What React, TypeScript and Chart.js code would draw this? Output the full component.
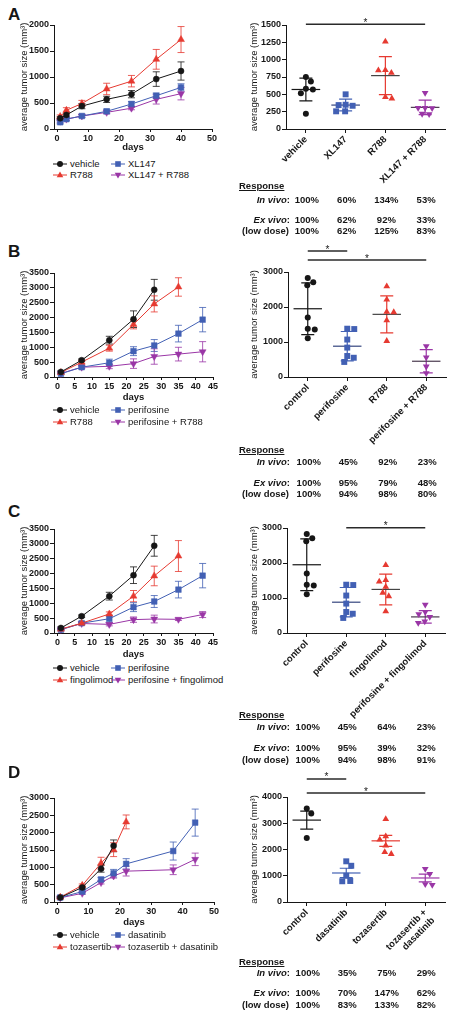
import React, { useEffect, useRef } from "react";
import { Chart, registerables } from "chart.js";

Chart.register(...registerables);

const FONT = "'Liberation Sans', Arial, Helvetica, sans-serif";
const INK = "#161616";
const RED = "#e63a31";
const BLUE = "#4260b4";
const PURPLE = "#9a36a6";

// ---------------- Panel A ----------------
const aDays = [1, 3, 8, 16, 24, 32, 40];
const aVehicle = [205, 270, 440, 570, 670, 960, 1115];
const aVehicleErr = [30, 40, 50, 60, 70, 140, 175];
const aR788 = [240, 360, 490, 770, 920, 1340, 1720];
const aR788Err = [30, 50, 60, 110, 110, 190, 250];
const aXL147 = [130, 190, 250, 340, 480, 640, 800];
const aXL147Err = [30, 30, 30, 40, 50, 50, 70];
const aCombo = [150, 190, 250, 320, 400, 570, 680];
const aComboErr = [20, 20, 20, 30, 30, 90, 120];
const aXTicks = [0, 10, 20, 30, 40, 50];
const aYTicks = [0, 250, 500, 750, 1000, 1250, 1500, 1750, 2000];

const aGroups = ["vehicle", "XL147", "R788", "XL147 + R788"];
const aVehiclePts = [750, 685, 580, 570, 515, 220];
const aXL147Pts = [500, 350, 345, 335, 255, 255];
const aR788Pts = [1260, 850, 845, 810, 460, 440];
const aComboPts = [520, 305, 305, 300, 220, 215];
const aMeans = [570, 345, 770, 312];
const aSDs = [165, 85, 275, 105];
const aScatterTicks = [0, 250, 500, 750, 1000, 1250, 1500];
const aSig = [[0, 3, 1510]];
const aInVivo = [100, 60, 134, 53];
const aExVivo = [100, 62, 92, 33];
const aLowDose = [100, 62, 125, 83];

// ---------------- Panel B ----------------
const bVehicleDays = [1, 7, 15, 22, 28];
const bVehicle = [170, 565, 1240, 1945, 2935];
const bVehicleErr = [40, 40, 130, 280, 350];
const bR788Days = [1, 7, 15, 22, 28, 35];
const bR788 = [150, 500, 970, 1770, 2460, 3030];
const bR788Err = [30, 60, 100, 150, 270, 310];
const bPeriDays = [1, 7, 15, 22, 28, 35, 42];
const bPeri = [110, 330, 480, 870, 1060, 1460, 1930];
const bPeriErr = [20, 40, 120, 150, 200, 280, 410];
const bCombo = [120, 330, 360, 450, 690, 770, 850];
const bComboErr = [20, 50, 80, 160, 260, 230, 340];
const bXTicks = [0, 5, 10, 15, 20, 25, 30, 35, 40, 45];
const bYTicks = [0, 500, 1000, 1500, 2000, 2500, 3000, 3500];

const bGroups = ["control", "perifosine", "R788", "perifosine + R788"];
const bControlPts = [2830, 2710, 2620, 1700, 1380, 1360, 1110];
const bPeriPts = [1380, 1370, 1070, 840, 600, 550, 430];
const bR788Pts = [2590, 2210, 1860, 1850, 1620, 1030];
const bComboPts = [880, 560, 300, 110];
const bMeans = [1950, 880, 1790, 450];
const bSDs = [740, 420, 530, 330];
const bScatterTicks = [0, 1000, 2000, 3000];
const bSig = [[0, 1, 3600], [0, 3, 3340]];
const bInVivo = [100, 45, 92, 23];
const bExVivo = [100, 95, 79, 48];
const bLowDose = [100, 94, 98, 80];

// ---------------- Panel C ----------------
const cFingoDays = [1, 7, 15, 22, 28, 35];
const cFingo = [130, 330, 640, 1240, 1920, 2590];
const cFingoErr = [20, 40, 70, 190, 330, 520];
const cCombo = [120, 320, 290, 450, 470, 460, 620];
const cComboErr = [20, 30, 50, 90, 130, 40, 100];

const cGroups = ["control", "perifosine", "fingolimod", "perifosine + fingolimod"];
const cFingoPts = [1940, 1510, 1470, 1320, 1150, 1050, 620];
const cComboPts = [810, 600, 540, 460, 330, 290];
const cMeans = [1950, 880, 1245, 460];
const cSDs = [740, 420, 440, 180];
const cSig = [[1, 3, 3010]];
const cInVivo = [100, 45, 64, 23];
const cExVivo = [100, 95, 39, 32];
const cLowDose = [100, 94, 98, 91];

// ---------------- Panel D ----------------
const dVehicleDays = [1, 8, 14, 18];
const dVehicle = [130, 420, 960, 1620];
const dVehicleErr = [20, 40, 100, 170];
const dTozaDays = [1, 8, 14, 18, 22];
const dToza = [140, 480, 1120, 1510, 2310];
const dTozaErr = [20, 40, 170, 200, 200];
const dDasaDays = [1, 8, 14, 18, 22, 37, 44];
const dDasa = [130, 300, 650, 830, 1100, 1470, 2290];
const dDasaErr = [20, 40, 60, 110, 150, 260, 390];
const dCombo = [120, 250, 560, 750, 890, 930, 1230];
const dComboErr = [20, 30, 40, 60, 140, 140, 180];
const dXTicks = [0, 10, 20, 30, 40, 50];
const dYTicks = [0, 500, 1000, 1500, 2000, 2500, 3000];

const dGroups: (string | string[])[] = ["control", "dasatinib", "tozasertib", ["tozasertib +", "dasatinib"]];
const dControlPts = [3560, 3370, 2440];
const dDasaPts = [1550, 1380, 1000, 800, 790];
const dTozaPts = [3160, 2500, 2380, 2150, 1900, 1830];
const dComboPts = [1260, 1070, 680, 650];
const dMeans = [3120, 1105, 2330, 915];
const dSDs = [340, 180, 210, 150];
const dScatterTicks = [0, 1000, 2000, 3000, 4000];
const dSig = [[0, 1, 4690], [0, 3, 4150]];
const dInVivo = [100, 35, 75, 29];
const dExVivo = [100, 70, 147, 62];
const dLowDose = [100, 83, 133, 82];

const Y_TITLE = "average tumor size (mm³)";

// ---------------- helpers ----------------
type Marker = "circle" | "square" | "tri" | "itri";
const MARK: Record<string, { style: string; rot: number; r: number; rs: number }> = {
  circle: { style: "circle", rot: 0, r: 3, rs: 3 },
  square: { style: "rect", rot: 0, r: 4, rs: 4.2 },
  tri: { style: "triangle", rot: 0, r: 4, rs: 3.9 },
  itri: { style: "triangle", rot: 180, r: 4, rs: 3.9 },
};

interface Geom {
  left: number; top: number; width: number; height: number;
  aLeft: number; aRight: number; aTop: number; aBottom: number;
}
interface LineSeries {
  label: string; color: string; marker: Marker;
  days: number[]; values: number[]; errors: number[];
}

const tickFont = { family: FONT, size: 9, weight: "bold" as const };
const titleFont = { family: FONT, size: 9.5 };

const errorBarPlugin = {
  id: "errbars",
  beforeDatasetsDraw(chart: any) {
    const ctx = chart.ctx;
    const ys = chart.scales.y;
    chart.data.datasets.forEach((ds: any, i: number) => {
      if (!ds.errors) return;
      const meta = chart.getDatasetMeta(i);
      ctx.save();
      ctx.strokeStyle = ds.borderColor;
      ctx.globalAlpha = 0.8;
      ctx.lineWidth = 1;
      meta.data.forEach((el: any, j: number) => {
        const v = ds.data[j].y;
        const e = ds.errors[j];
        if (!e) return;
        const x = el.x;
        const y1 = ys.getPixelForValue(v + e);
        const y2 = ys.getPixelForValue(v - e);
        ctx.beginPath();
        ctx.moveTo(x, y1); ctx.lineTo(x, y2);
        ctx.moveTo(x - 3.5, y1); ctx.lineTo(x + 3.5, y1);
        ctx.moveTo(x - 3.5, y2); ctx.lineTo(x + 3.5, y2);
        ctx.stroke();
      });
      ctx.restore();
    });
  },
};

function yAxis(g: Geom, ticks: number[], titlePad: number) {
  return {
    type: "linear",
    min: 0,
    max: ticks[ticks.length - 1],
    afterBuildTicks: (ax: any) => { ax.ticks = ticks.map((v) => ({ value: v })); },
    afterFit: (ax: any) => { ax.width = g.aLeft - g.left; },
    ticks: { font: tickFont, color: INK, padding: 1, callback: (v: any) => String(v) },
    grid: { display: true, drawOnChartArea: false, drawTicks: true, tickLength: 4, color: INK },
    border: { display: true, color: INK, width: 1 },
    title: { display: true, text: Y_TITLE, font: titleFont, color: INK, padding: { top: titlePad, bottom: 0 } },
  };
}

function lineConfig(series: LineSeries[], g: Geom, xTicks: number[], yTicks: number[]) {
  const xH = g.top + g.height - g.aBottom;
  return {
    type: "line",
    data: {
      datasets: series.map((s) => ({
        label: s.label,
        data: s.days.map((d, i) => ({ x: d, y: s.values[i] })),
        errors: s.errors,
        borderColor: s.color,
        backgroundColor: s.color,
        borderWidth: 1,
        pointStyle: MARK[s.marker].style,
        pointRotation: MARK[s.marker].rot,
        pointRadius: MARK[s.marker].r,
        pointBorderWidth: 0.5,
        pointBackgroundColor: s.color,
        pointBorderColor: s.color,
        tension: 0,
        clip: false,
      })),
    },
    options: {
      animation: false,
      responsive: false,
      devicePixelRatio: 1,
      layout: { padding: { left: 0, right: g.left + g.width - g.aRight, top: g.aTop - g.top, bottom: 0 } },
      plugins: { legend: { display: false }, tooltip: { enabled: false } },
      scales: {
        x: {
          type: "linear",
          min: -1,
          max: xTicks[xTicks.length - 1],
          afterBuildTicks: (ax: any) => { ax.ticks = xTicks.map((v) => ({ value: v })); },
          afterFit: (ax: any) => { ax.height = xH; },
          ticks: { font: tickFont, color: INK, padding: 1, maxRotation: 0, autoSkip: false, callback: (v: any) => String(v) },
          grid: { display: true, drawOnChartArea: false, drawTicks: true, tickLength: 3, color: INK },
          border: { display: true, color: INK, width: 1 },
          title: { display: true, text: "days", font: { family: FONT, size: 9.5, weight: "bold" }, color: INK, padding: { top: 0, bottom: 2 } },
        },
        y: yAxis(g, yTicks, 18.3),
      },
    },
    plugins: [errorBarPlugin],
  };
}

function swarm(values: number[], pxPerUnit: number, diam: number): number[] {
  const order = values.map((_, i) => i).sort((a, b) => values[b] - values[a]);
  const placed: { x: number; y: number }[] = [];
  const out = new Array(values.length).fill(0);
  order.forEach((i, n) => {
    const y = values[i] * pxPerUnit;
    let chosen = 0;
    outer: for (let s = 0; s < 40; s += 0.5) {
      const cands = s === 0 ? [0] : n % 2 ? [s, -s] : [-s, s];
      for (const c of cands) {
        if (placed.every((p) => Math.hypot(p.x - c, p.y - y) >= diam)) {
          chosen = c;
          break outer;
        }
      }
    }
    placed.push({ x: chosen, y });
    out[i] = chosen;
  });
  return out;
}

interface ScatterGroup { color: string; marker: Marker; values: number[] }

function summaryPlugin(means: number[], sds: number[], sig: number[][], barColors: string[], meanColors: string[]) {
  return {
    id: "summary",
    beforeDatasetsDraw(chart: any) {
      const ctx = chart.ctx;
      const xs = chart.scales.x;
      const ys = chart.scales.y;
      const half = (xs.getPixelForValue(1) - xs.getPixelForValue(0)) * 0.36;
      means.forEach((m, i) => {
        const cx = xs.getPixelForValue(i);
        const ym = ys.getPixelForValue(m);
        const yt = ys.getPixelForValue(m + sds[i]);
        const yb = ys.getPixelForValue(Math.max(0, m - sds[i]));
        ctx.save();
        ctx.lineWidth = 1.2;
        ctx.strokeStyle = barColors[i];
        ctx.beginPath();
        ctx.moveTo(cx, yt); ctx.lineTo(cx, yb);
        ctx.moveTo(cx - 6.5, yt); ctx.lineTo(cx + 6.5, yt);
        ctx.moveTo(cx - 6.5, yb); ctx.lineTo(cx + 6.5, yb);
        ctx.stroke();
        ctx.strokeStyle = meanColors[i];
        ctx.beginPath();
        ctx.moveTo(cx - half, ym); ctx.lineTo(cx + half, ym);
        ctx.stroke();
        ctx.restore();
      });
    },
    afterDraw(chart: any) {
      const ctx = chart.ctx;
      const xs = chart.scales.x;
      const ys = chart.scales.y;
      sig.forEach(([a, b, level]) => {
        const x1 = xs.getPixelForValue(a);
        const x2 = xs.getPixelForValue(b);
        const y = ys.getPixelForValue(level);
        ctx.save();
        ctx.strokeStyle = "#2a2a2a";
        ctx.lineWidth = 1.5;
        ctx.beginPath();
        ctx.moveTo(x1, y); ctx.lineTo(x2, y);
        ctx.stroke();
        ctx.fillStyle = INK;
        ctx.font = `10px ${FONT}`;
        ctx.textAlign = "center";
        ctx.textBaseline = "alphabetic";
        ctx.fillText("*", (x1 + x2) / 2, y + 1.5);
        ctx.restore();
      });
    },
  };
}

function scatterConfig(
  labels: (string | string[])[], groups: ScatterGroup[], means: number[], sds: number[],
  sig: number[][], g: Geom, yTicks: number[], meanColors: string[],
) {
  const yMax = yTicks[yTicks.length - 1];
  const pxPerUnit = (g.aBottom - g.aTop) / yMax;
  const catPx = (g.aRight - g.aLeft) / labels.length;
  const xH = g.top + g.height - g.aBottom;
  return {
    type: "scatter",
    data: {
      datasets: groups.map((gr, i) => {
        const offs = swarm(gr.values, pxPerUnit, 6.6);
        return {
          data: gr.values.map((v, k) => ({ x: i + offs[k] / catPx, y: v })),
          pointStyle: MARK[gr.marker].style,
          pointRotation: MARK[gr.marker].rot,
          pointRadius: MARK[gr.marker].rs,
          pointHoverRadius: MARK[gr.marker].rs,
          pointBackgroundColor: gr.color,
          pointBorderColor: gr.color,
          pointBorderWidth: 0,
          clip: false,
        };
      }),
    },
    options: {
      animation: false,
      responsive: false,
      devicePixelRatio: 1,
      layout: { padding: { left: 0, right: g.left + g.width - g.aRight, top: g.aTop - g.top, bottom: 0 } },
      plugins: { legend: { display: false }, tooltip: { enabled: false } },
      scales: {
        x: {
          type: "linear",
          min: -0.5,
          max: labels.length - 0.5,
          afterBuildTicks: (ax: any) => { ax.ticks = labels.map((_, i) => ({ value: i })); },
          afterFit: (ax: any) => { ax.height = xH; },
          ticks: {
            font: { family: FONT, size: 9.5, weight: "bold" }, color: INK, padding: 1,
            minRotation: 45, maxRotation: 45, autoSkip: false,
            callback: (v: any) => labels[Math.round(v)],
          },
          grid: { display: true, drawOnChartArea: false, drawTicks: true, tickLength: 4, color: INK },
          border: { display: true, color: INK, width: 1 },
        },
        y: yAxis(g, yTicks, 23.3),
      },
    },
    plugins: [summaryPlugin(means, sds, sig, groups.map((gr) => gr.color), meanColors)],
  };
}

function ChartBox({ geom, build }: { geom: Geom; build: () => any }) {
  const ref = useRef<HTMLCanvasElement>(null);
  useEffect(() => {
    const chart = new Chart(ref.current as HTMLCanvasElement, build());
    return () => chart.destroy();
  }, []);
  return (
    <canvas
      ref={ref}
      width={geom.width}
      height={geom.height}
      style={{ position: "absolute", left: geom.left, top: geom.top, width: geom.width, height: geom.height }}
    />
  );
}

function T({ x, y, size = 9.5, bold = false, italic = false, align = "left", underline = false, children }: any) {
  const w = 200;
  const left = align === "left" ? x : align === "right" ? x - w : x - w / 2;
  return (
    <div
      style={{
        position: "absolute", left, top: y - size * 0.59, width: w, fontSize: size, lineHeight: `${size * 1.2}px`,
        fontWeight: bold ? "bold" : "normal", fontStyle: italic ? "italic" : "normal", textAlign: align,
        textDecoration: underline ? "underline" : "none", whiteSpace: "nowrap", color: INK, fontFamily: FONT,
      }}
    >
      {children}
    </div>
  );
}

function MarkerIcon({ marker, color }: { marker: Marker; color: string }) {
  if (marker === "circle") return <circle cx={7} cy={5} r={3} fill={color} />;
  if (marker === "square") return <rect x={4.2} y={2.2} width={5.6} height={5.6} fill={color} />;
  if (marker === "tri") return <polygon points="7,1.5 10.3,7.2 3.7,7.2" fill={color} />;
  return <polygon points="7,8.5 10.3,2.8 3.7,2.8" fill={color} />;
}

function LegendItem({ x, y, s }: { x: number; y: number; s: LineSeries }) {
  return (
    <>
      <svg style={{ position: "absolute", left: x - 7, top: y - 5 }} width={14} height={10}>
        <line x1={0} y1={5} x2={14} y2={5} stroke={s.color} strokeWidth={1} />
        <MarkerIcon marker={s.marker} color={s.color} />
      </svg>
      <T x={x + 10} y={y}>{s.label}</T>
    </>
  );
}

function Legend({ series, y1, y2 }: { series: LineSeries[]; y1: number; y2: number }) {
  return (
    <>
      <LegendItem x={60} y={y1} s={series[0]} />
      <LegendItem x={118} y={y1} s={series[2]} />
      <LegendItem x={60} y={y2} s={series[1]} />
      <LegendItem x={118} y={y2} s={series[3]} />
    </>
  );
}

function ResponseTable({ g, rows, inVivo, exVivo, lowDose }: { g: Geom; rows: number[]; inVivo: number[]; exVivo: number[]; lowDose: number[] }) {
  const cat = (g.aRight - g.aLeft) / 4;
  const centers = [0, 1, 2, 3].map((i) => g.aLeft + cat * (i + 0.5) + 1);
  const vals = [inVivo, exVivo, lowDose];
  return (
    <>
      <T x={239} y={rows[0]} bold underline>Response</T>
      <T x={290} y={rows[1]} bold align="right"><i>In vivo</i>:</T>
      <T x={290} y={rows[2]} bold align="right"><i>Ex vivo</i>:</T>
      <T x={289} y={rows[3]} bold align="right">(low dose)</T>
      {vals.map((arr, r) =>
        arr.map((v, i) => (
          <T key={`${r}-${i}`} x={centers[i]} y={rows[r + 1]} bold align="center">{`${v}%`}</T>
        )),
      )}
    </>
  );
}

// ---------------- geometry ----------------
const aLineG: Geom = { left: 0, top: 0, width: 225, height: 155, aLeft: 54, aRight: 212, aTop: 25, aBottom: 129 };
const bLineG: Geom = { left: 0, top: 240, width: 225, height: 165, aLeft: 54, aRight: 213, aTop: 273, aBottom: 377 };
const cLineG: Geom = { left: 0, top: 500, width: 225, height: 162, aLeft: 54, aRight: 213, aTop: 529, aBottom: 633 };
const dLineG: Geom = { left: 0, top: 770, width: 225, height: 160, aLeft: 54, aRight: 214, aTop: 798, aBottom: 902 };

const aScatG: Geom = { left: 225, top: 0, width: 230, height: 190, aLeft: 286, aRight: 445, aTop: 25, aBottom: 129 };
const bScatG: Geom = { left: 225, top: 240, width: 230, height: 207, aLeft: 288, aRight: 446, aTop: 272, aBottom: 377 };
const cScatG: Geom = { left: 225, top: 505, width: 230, height: 222, aLeft: 287, aRight: 445, aTop: 528, aBottom: 633 };
const dScatG: Geom = { left: 225, top: 765, width: 230, height: 195, aLeft: 287, aRight: 445, aTop: 797, aBottom: 902 };

// ---------------- series ----------------
const aSeries: LineSeries[] = [
  { label: "vehicle", color: INK, marker: "circle", days: aDays, values: aVehicle, errors: aVehicleErr },
  { label: "R788", color: RED, marker: "tri", days: aDays, values: aR788, errors: aR788Err },
  { label: "XL147", color: BLUE, marker: "square", days: aDays, values: aXL147, errors: aXL147Err },
  { label: "XL147 + R788", color: PURPLE, marker: "itri", days: aDays, values: aCombo, errors: aComboErr },
];
const bSeries: LineSeries[] = [
  { label: "vehicle", color: INK, marker: "circle", days: bVehicleDays, values: bVehicle, errors: bVehicleErr },
  { label: "R788", color: RED, marker: "tri", days: bR788Days, values: bR788, errors: bR788Err },
  { label: "perifosine", color: BLUE, marker: "square", days: bPeriDays, values: bPeri, errors: bPeriErr },
  { label: "perifosine + R788", color: PURPLE, marker: "itri", days: bPeriDays, values: bCombo, errors: bComboErr },
];
const cSeries: LineSeries[] = [
  { label: "vehicle", color: INK, marker: "circle", days: bVehicleDays, values: bVehicle, errors: bVehicleErr },
  { label: "fingolimod", color: RED, marker: "tri", days: cFingoDays, values: cFingo, errors: cFingoErr },
  { label: "perifosine", color: BLUE, marker: "square", days: bPeriDays, values: bPeri, errors: bPeriErr },
  { label: "perifosine + fingolimod", color: PURPLE, marker: "itri", days: bPeriDays, values: cCombo, errors: cComboErr },
];
const dSeries: LineSeries[] = [
  { label: "vehicle", color: INK, marker: "circle", days: dVehicleDays, values: dVehicle, errors: dVehicleErr },
  { label: "tozasertib", color: RED, marker: "tri", days: dTozaDays, values: dToza, errors: dTozaErr },
  { label: "dasatinib", color: BLUE, marker: "square", days: dDasaDays, values: dDasa, errors: dDasaErr },
  { label: "tozasertib + dasatinib", color: PURPLE, marker: "itri", days: dDasaDays, values: dCombo, errors: dComboErr },
];

const grpStyle = (pts: number[][]): ScatterGroup[] => [
  { color: INK, marker: "circle", values: pts[0] },
  { color: BLUE, marker: "square", values: pts[1] },
  { color: RED, marker: "tri", values: pts[2] },
  { color: PURPLE, marker: "itri", values: pts[3] },
];
const darkMeans = [INK, "#34457e", "#444444", "#4a3a4e"];
const colorMeans = [INK, BLUE, RED, PURPLE];

function Letter({ y, children }: any) {
  return <T x={8} y={y} size={17} bold>{children}</T>;
}

export default function App() {
  return (
    <div style={{ position: "absolute", left: 0, top: 0, width: 455, height: 1020, background: "#fff", overflow: "hidden", fontFamily: FONT }}>
      <Letter y={15.5}>A</Letter>
      <ChartBox geom={aLineG} build={() => lineConfig(aSeries, aLineG, aXTicks, aYTicks)} />
      <Legend series={aSeries} y1={164} y2={175} />
      <ChartBox geom={aScatG} build={() => scatterConfig(aGroups, grpStyle([aVehiclePts, aXL147Pts, aR788Pts, aComboPts]), aMeans, aSDs, aSig, aScatG, aScatterTicks, darkMeans)} />
      <ResponseTable g={aScatG} rows={[186, 200, 220, 231]} inVivo={aInVivo} exVivo={aExVivo} lowDose={aLowDose} />

      <Letter y={252}>B</Letter>
      <ChartBox geom={bLineG} build={() => lineConfig(bSeries, bLineG, bXTicks, bYTicks)} />
      <Legend series={bSeries} y1={410} y2={422} />
      <ChartBox geom={bScatG} build={() => scatterConfig(bGroups, grpStyle([bControlPts, bPeriPts, bR788Pts, bComboPts]), bMeans, bSDs, bSig, bScatG, bScatterTicks, darkMeans)} />
      <ResponseTable g={bScatG} rows={[450, 462, 483, 494]} inVivo={bInVivo} exVivo={bExVivo} lowDose={bLowDose} />

      <Letter y={512}>C</Letter>
      <ChartBox geom={cLineG} build={() => lineConfig(cSeries, cLineG, bXTicks, bYTicks)} />
      <Legend series={cSeries} y1={668} y2={680} />
      <ChartBox geom={cScatG} build={() => scatterConfig(cGroups, grpStyle([bControlPts, bPeriPts, cFingoPts, cComboPts]), cMeans, cSDs, cSig, cScatG, bScatterTicks, darkMeans)} />
      <ResponseTable g={cScatG} rows={[715, 727, 748, 760]} inVivo={cInVivo} exVivo={cExVivo} lowDose={cLowDose} />

      <Letter y={773}>D</Letter>
      <ChartBox geom={dLineG} build={() => lineConfig(dSeries, dLineG, dXTicks, dYTicks)} />
      <Legend series={dSeries} y1={935} y2={947} />
      <ChartBox geom={dScatG} build={() => scatterConfig(dGroups, grpStyle([dControlPts, dDasaPts, dTozaPts, dComboPts]), dMeans, dSDs, dSig, dScatG, dScatterTicks, colorMeans)} />
      <ResponseTable g={dScatG} rows={[962, 973, 993, 1005]} inVivo={dInVivo} exVivo={dExVivo} lowDose={dLowDose} />
    </div>
  );
}
